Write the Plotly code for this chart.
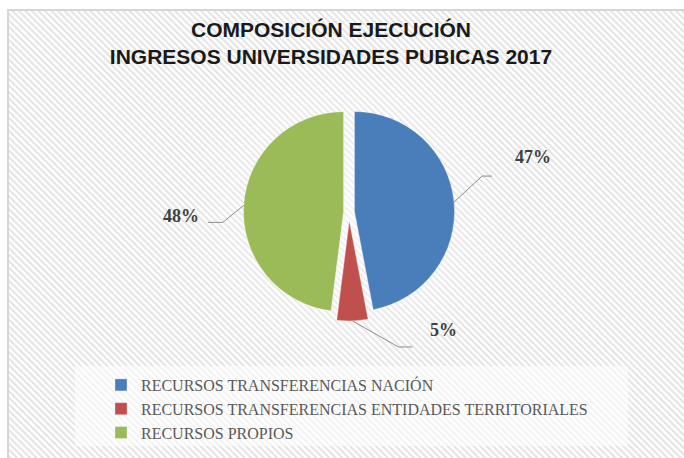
import math
import base64
import plotly.graph_objects as go

# ---------------- data ----------------
categories = [
    "RECURSOS TRANSFERENCIAS NACIÓN",
    "RECURSOS TRANSFERENCIAS ENTIDADES TERRITORIALES",
    "RECURSOS PROPIOS",
]
shares = [47, 5, 48]
title_lines = ["COMPOSICIÓN EJECUCIÓN", "INGRESOS UNIVERSIDADES PUBICAS 2017"]

# ---------------- style / layout ----------------
colors = ["#4A7EBB", "#C0504D", "#9BBB59"]
pulls = [0.055, 0.09, 0.055]
W, H = 684, 458
dom_x = [0.3509, 0.6696]
dom_y = [0.2991, 0.7751]
# leader-line elbow offsets (px) from slice edge, tail length, label offsets from tail end
elbow_off = [(28, -26), (46, 26), (-21, 17)]
tail_len = [10, 14, -15]
label_off = [(41, -19), (31, -17), (-27, -6)]

# background: diagonal stripes inside a light frame
svg = f"""<svg xmlns='http://www.w3.org/2000/svg' width='{W}' height='{H}'>
<defs>
<pattern id='p' width='4.6' height='4.6' patternUnits='userSpaceOnUse' patternTransform='rotate(-45)'>
<rect width='4.6' height='4.6' fill='#ffffff'/><rect width='2.1' height='4.6' fill='#e4e4e4'/></pattern>
<radialGradient id='g' cx='349' cy='212' r='170' gradientUnits='userSpaceOnUse'>
<stop offset='0' stop-color='#ffffff' stop-opacity='0.55'/><stop offset='1' stop-color='#ffffff' stop-opacity='0'/></radialGradient>
</defs>
<rect width='{W}' height='{H}' fill='#ffffff'/>
<rect x='8' y='10' width='{W}' height='{H}' fill='url(#p)'/>
<rect x='8' y='10' width='{W}' height='{H}' fill='url(#g)'/>
<rect x='75' y='366' width='553' height='80' fill='#ffffff' fill-opacity='0.55'/>
<rect x='8' y='10' width='{W+10}' height='{H+10}' fill='none' stroke='#d6d6d6' stroke-width='2'/>
</svg>"""
bg_uri = "data:image/svg+xml;base64," + base64.b64encode(svg.encode()).decode()

fig = go.Figure(
    go.Pie(
        labels=categories,
        values=shares,
        sort=False,
        direction="clockwise",
        rotation=0,
        pull=pulls,
        marker=dict(colors=colors, line=dict(color="rgba(255,255,255,0.6)", width=0.5)),
        textinfo="none",
        hoverinfo="label+percent",
        domain=dict(x=dom_x, y=dom_y),
    )
)

# pie geometry as Plotly computes it
cx = (dom_x[0] + dom_x[1]) / 2 * W
cy = (1 - (dom_y[0] + dom_y[1]) / 2) * H
r = min((dom_x[1] - dom_x[0]) * W, (dom_y[1] - dom_y[0]) * H) / 2 / (1 + max(pulls))
total = sum(shares)


def px(x):
    return x / W


def py(y):
    return 1 - y / H


shapes = []
annotations = []
cum = 0
for i, v in enumerate(shares):
    mid = (cum + v / 2) / total * 2 * math.pi
    cum += v
    ux, uy = math.sin(mid), -math.cos(mid)
    sx = cx + (1 + pulls[i]) * r * ux
    sy = cy + (1 + pulls[i]) * r * uy
    ex, ey = sx + elbow_off[i][0], sy + elbow_off[i][1]
    tx = ex + tail_len[i]
    for (a, b, c, d) in [(sx, sy, ex, ey), (ex, ey, tx, ey)]:
        shapes.append(dict(type="line", xref="paper", yref="paper",
                           x0=px(a), y0=py(b), x1=px(c), y1=py(d),
                           line=dict(color="#8c8c8c", width=1)))
    annotations.append(dict(
        x=px(tx + label_off[i][0]), y=py(ey + label_off[i][1]),
        xref="paper", yref="paper", showarrow=False,
        text=f"{v / total * 100:.0f}%",
        font=dict(family="Liberation Serif", size=18, color="#404040", weight="bold"),
        xanchor="center", yanchor="middle",
    ))

fig.update_layout(
    width=W,
    height=H,
    margin=dict(l=0, r=0, t=0, b=0),
    paper_bgcolor="#ffffff",
    plot_bgcolor="rgba(0,0,0,0)",
    images=[dict(source=bg_uri, xref="paper", yref="paper", x=0, y=1,
                 sizex=1, sizey=1, sizing="stretch", layer="below",
                 xanchor="left", yanchor="top")],
    title=dict(
        text="<br>".join(title_lines),
        x=331 / W, xanchor="center",
        y=1 - 37 / H, yanchor="top",
        font=dict(family="Liberation Sans", size=21, color="#1a1a1a", weight="bold"),
    ),
    legend=dict(
        orientation="v",
        x=101 / W, xanchor="left",
        y=1 - 368 / H, yanchor="top",
        font=dict(family="Liberation Serif", size=16, color="#595959"),
        bgcolor="rgba(0,0,0,0)",
        itemclick=False,
    ),
    shapes=shapes,
    annotations=annotations,
)

fig.write_html("out.html", config={"displayModeBar": False},
               post_script="document.body.style.margin='0';")
